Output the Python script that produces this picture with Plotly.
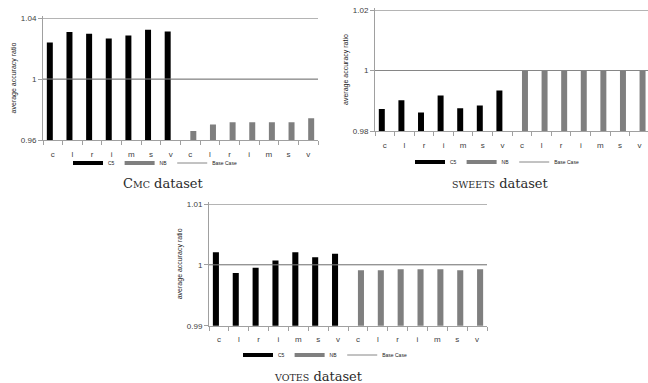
import plotly.graph_objects as go

categories = ["c", "l", "r", "i", "m", "s", "v"]
tick_labels = categories + categories

cmc_c5 = [1.0240, 1.0308, 1.0297, 1.0266, 1.0286, 1.0323, 1.0312]
cmc_nb = [0.9659, 0.9701, 0.9716, 0.9716, 0.9716, 0.9716, 0.9743]
sweets_c5 = [0.9873, 0.9902, 0.9861, 0.9917, 0.9875, 0.9884, 0.9934]
sweets_nb = [1.0, 1.0, 1.0, 1.0, 1.0, 1.0, 1.0]
votes_c5 = [1.00208, 0.99868, 0.99951, 1.00071, 1.00208, 1.00126, 1.00181]
votes_nb = [0.99912, 0.99912, 0.99929, 0.99929, 0.99929, 0.99912, 0.99929]
base_case = 1.0

cmc_yticks = [0.96, 1.0, 1.04]
cmc_ytext = ["0.96", "1", "1.04"]
sweets_yticks = [0.98, 1.0, 1.02]
sweets_ytext = ["0.98", "1", "1.02"]
votes_yticks = [0.99, 1.0, 1.01]
votes_ytext = ["0.99", "1", "1.01"]

C5_COLOR = "#000000"
NB_COLOR = "#7f7f7f"
BASE_COLOR = "#868686"
GRID_COLOR = "#b4b4b4"
AXIS_COLOR = "#a0a0a0"
TXT = "#404040"

n = len(tick_labels)
xs = list(range(n))
pad = [None] * len(categories)

panels = [
    dict(c5=cmc_c5, nb=cmc_nb, yt=cmc_yticks, ytx=cmc_ytext, sfx="", leg="legend", xr=[-0.5, n - 0.5]),
    dict(c5=sweets_c5, nb=sweets_nb, yt=sweets_yticks, ytx=sweets_ytext, sfx="2", leg="legend2", xr=[-0.5, n - 0.57]),
    dict(c5=votes_c5, nb=votes_nb, yt=votes_yticks, ytx=votes_ytext, sfx="3", leg="legend3", xr=[-0.5, n - 0.5]),
]

fig = go.Figure()
for p in panels:
    xa = "x" + p["sfx"]
    ya = "y" + p["sfx"]
    fig.add_trace(go.Bar(x=xs, y=p["c5"] + pad, name="C5", marker_color=C5_COLOR,
                         marker_line_width=0, xaxis=xa, yaxis=ya, showlegend=False,
                         offsetgroup="c5"))
    fig.add_trace(go.Bar(x=xs, y=pad + p["nb"], name="NB", marker_color=NB_COLOR,
                         marker_line_width=0, xaxis=xa, yaxis=ya, showlegend=False,
                         offsetgroup="nb"))
    fig.add_trace(go.Scatter(x=[-0.5, n - 0.5], y=[base_case, base_case], mode="lines",
                             line=dict(color=BASE_COLOR, width=1), xaxis=xa, yaxis=ya,
                             showlegend=False, hoverinfo="skip"))
    # legend entries
    fig.add_trace(go.Scatter(x=[None], y=[None], mode="lines", name="C5",
                             line=dict(color=C5_COLOR, width=4), xaxis=xa, yaxis=ya,
                             legend=p["leg"]))
    fig.add_trace(go.Scatter(x=[None], y=[None], mode="lines", name="NB",
                             line=dict(color=NB_COLOR, width=4), xaxis=xa, yaxis=ya,
                             legend=p["leg"]))
    fig.add_trace(go.Scatter(x=[None], y=[None], mode="lines", name="Base Case",
                             line=dict(color=BASE_COLOR, width=1), xaxis=xa, yaxis=ya,
                             legend=p["leg"]))

W, H = 648, 383
TOP_PAD = 2.0  # px of headroom so the top gridline is not clipped at the axis end
def px_x(a, b):
    return [max(0, a / W), min(1, b / W)]
def px_y(top, bottom):
    return [max(0, 1 - bottom / H), min(1, 1 - (top - TOP_PAD) / H)]
def fx(a):
    return a / W
def fy(a):
    return 1 - a / H

# (left, right), (top of highest tick, bottom) in pixels
boxes = [
    ((43, 318), (18, 140)),
    ((375, 648), (10, 131)),
    ((209, 487), (204, 325.7)),
]

layout = dict(
    width=W, height=H,
    margin=dict(l=0, r=0, t=0, b=0, autoexpand=False),
    paper_bgcolor="white", plot_bgcolor="white",
    barmode="group", bargap=0.39, bargroupgap=0,
    font=dict(family="Liberation Sans", color=TXT),
)

for i, p in enumerate(panels):
    sfx = p["sfx"]
    (xl, xr), (yt, yb) = boxes[i]
    lo, hi = p["yt"][0], p["yt"][-1]
    eps = (hi - lo) * TOP_PAD / (yb - yt)
    layout["xaxis" + sfx] = dict(
        domain=px_x(xl, xr), anchor="y" + sfx, range=p["xr"], automargin=False,
        tickmode="array", tickvals=xs, ticktext=tick_labels, ticks="",
        ticklabelstandoff=6, ticklabeloverflow="allow",
        tickfont=dict(size=8, color=TXT), showgrid=False, zeroline=False,
        showline=True, linecolor=AXIS_COLOR, linewidth=1,
        minor=dict(tick0=-0.5, dtick=1, ticks="outside", ticklen=4,
                   tickcolor=AXIS_COLOR, tickwidth=1, showgrid=False),
        fixedrange=True,
    )
    layout["yaxis" + sfx] = dict(
        domain=px_y(yt, yb), anchor="x" + sfx, range=[lo, hi + eps], automargin=False,
        tickmode="array", tickvals=p["yt"], ticktext=p["ytx"],
        ticks="outside", ticklen=4, tickcolor=AXIS_COLOR, ticklabeloverflow="allow",
        tickfont=dict(size=8, color=TXT),
        showgrid=True, gridcolor=GRID_COLOR, gridwidth=1, zeroline=False,
        showline=True, linecolor=AXIS_COLOR, linewidth=1,
        title=dict(text="average accuracy ratio", font=dict(size=7, color="#202020"), standoff=3),
        fixedrange=True,
    )

leg_common = dict(orientation="h", xanchor="center", yanchor="middle",
                  font=dict(size=5, color="#202020"), bgcolor="rgba(0,0,0,0)",
                  itemwidth=30, tracegroupgap=0)
layout["legend"] = dict(leg_common, x=fx(155), y=fy(163))
layout["legend2"] = dict(leg_common, x=fx(497), y=fy(162))
layout["legend3"] = dict(leg_common, x=fx(325), y=fy(355))

fig.update_layout(**layout)

cap_font = dict(family="DejaVu Serif", size=13, color="#2a2a2a")
captions = [
    ("C<span style='font-size:9.5px'>MC</span> dataset", 163, 183),
    ("<span style='font-size:9.5px'>SWEETS</span> dataset", 500, 183),
    ("<span style='font-size:9.5px'>VOTES</span> dataset", 318, 376),
]
for text, cx, cy in captions:
    fig.add_annotation(text=text, x=fx(cx), y=fy(cy), xref="paper", yref="paper",
                       xanchor="center", yanchor="middle", showarrow=False, font=cap_font)

fig.write_html("out.html", config={"displayModeBar": False},
               post_script="document.body.style.margin='0px';")
